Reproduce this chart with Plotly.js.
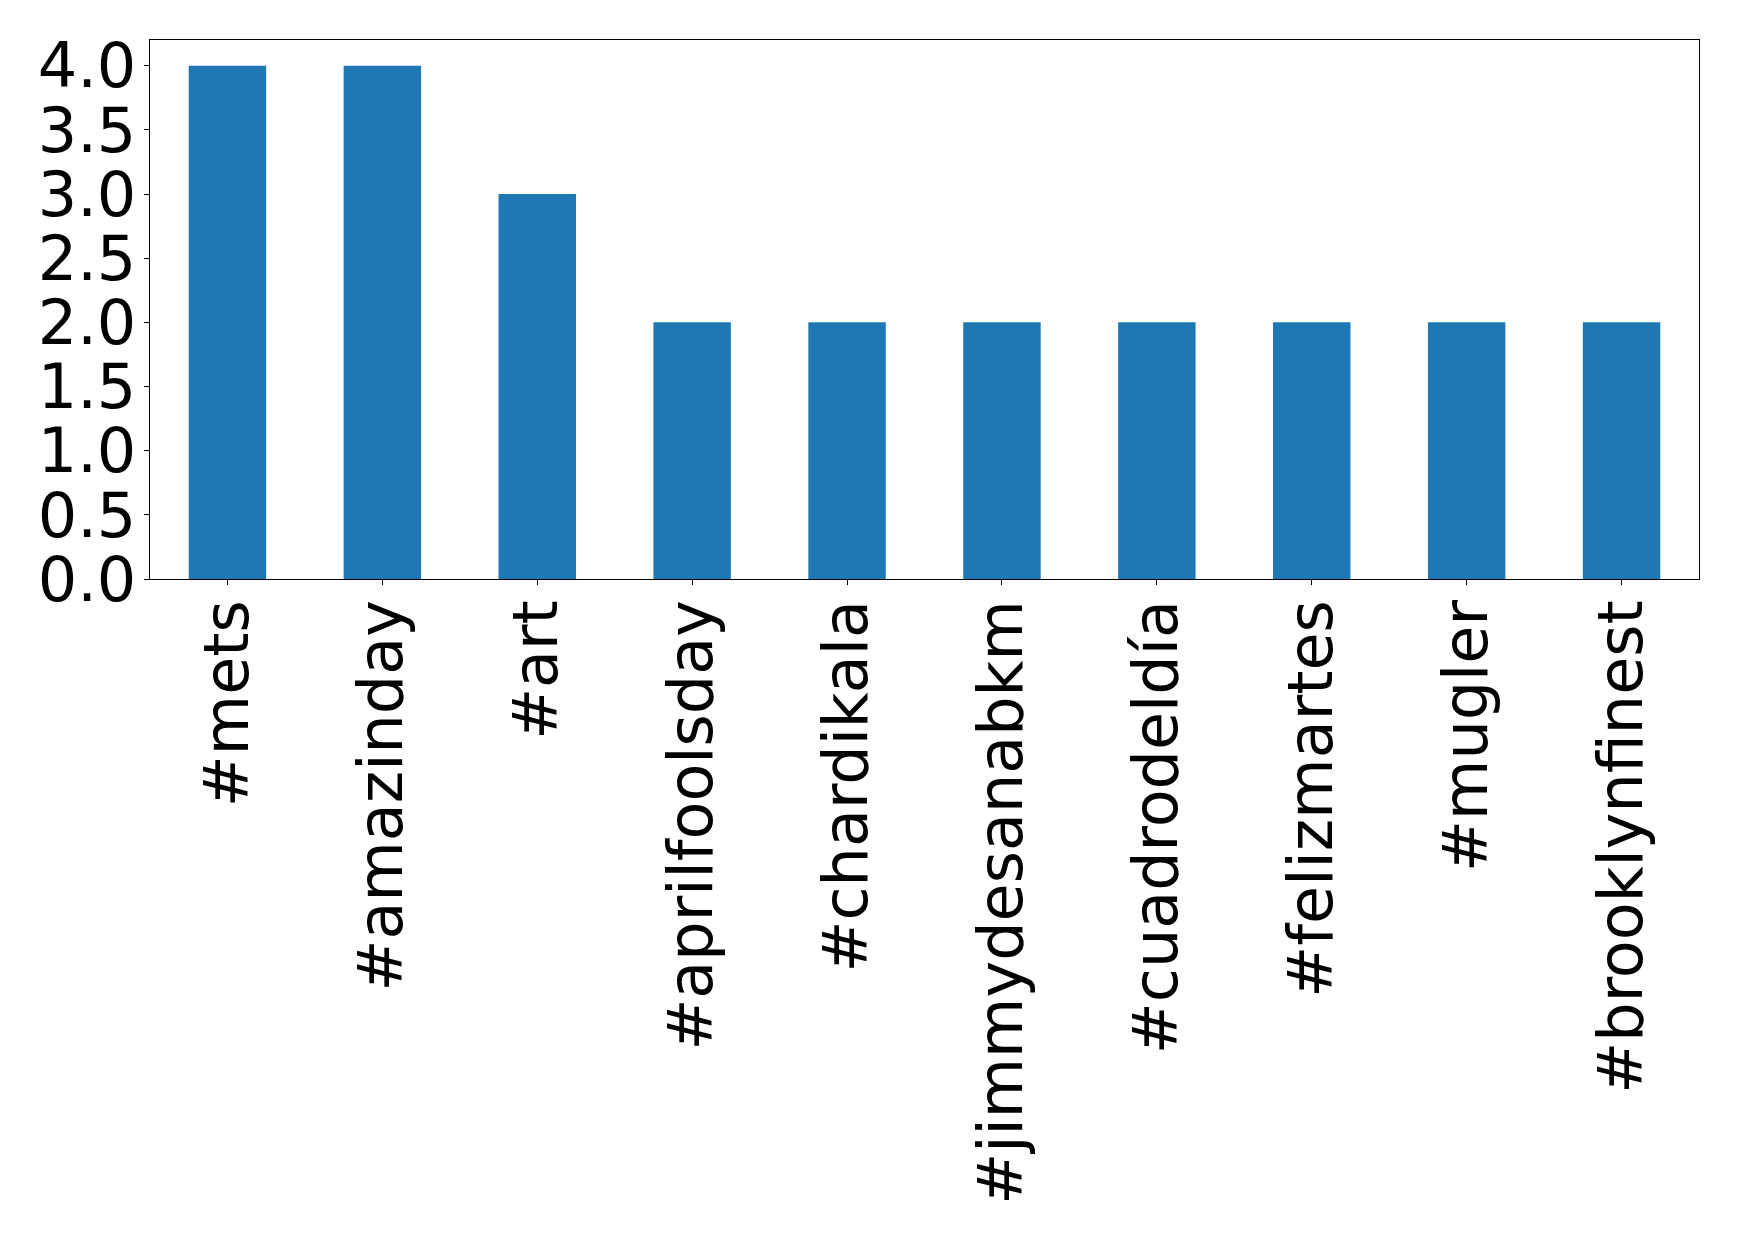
<!DOCTYPE html>
<html>
<head>
<meta charset="utf-8">
<script src="https://cdn.plot.ly/plotly-3.0.1.min.js"></script>
<style>html,body{margin:0;padding:0;background:#fff;}#chart{width:1739px;height:1237px;}</style>
</head>
<body>
<div id="chart"></div>
<script>
const hashtags = ["#mets", "#amazinday", "#art", "#aprilfoolsday", "#chardikala", "#jimmydesanabkm", "#cuadrodeldía", "#felizmartes", "#mugler", "#brooklynfinest"];
const counts = [4, 4, 3, 2, 2, 2, 2, 2, 2, 2];
const yTickVals = [0, 0.5, 1, 1.5, 2, 2.5, 3, 3.5, 4];
const yTickText = ["0.0", "0.5", "1.0", "1.5", "2.0", "2.5", "3.0", "3.5", "4.0"];

const font = {family: "DejaVu Sans, sans-serif", size: 62, color: "#000"};

Plotly.newPlot("chart", [{
  type: "bar",
  x: hashtags.map((_, i) => i),
  y: counts,
  width: 0.5,
  marker: {color: "#1f77b4", line: {width: 0}},
  hoverinfo: "skip"
}], {
  width: 1739,
  height: 1237,
  margin: {l: 150, r: 40, t: 40, b: 658, pad: 0},
  paper_bgcolor: "#fff",
  plot_bgcolor: "#fff",
  showlegend: false,
  font: font,
  xaxis: {
    range: [-0.5, 9.5],
    tickmode: "array",
    tickvals: hashtags.map((_, i) => i),
    ticktext: hashtags,
    tickangle: -90,
    ticks: "outside",
    ticklen: 5,
    tickwidth: 1,
    tickcolor: "#000",
    ticklabelstandoff: -10,
    showline: true,
    linecolor: "#000",
    linewidth: 1.3,
    mirror: true,
    showgrid: false,
    zeroline: false,
    tickfont: font
  },
  yaxis: {
    range: [0, 4.2],
    tickmode: "array",
    tickvals: yTickVals,
    ticktext: yTickText,
    ticks: "outside",
    ticklen: 5,
    tickwidth: 1,
    tickcolor: "#000",
    ticklabelstandoff: -5,
    showline: true,
    linecolor: "#000",
    linewidth: 1.3,
    mirror: true,
    showgrid: false,
    zeroline: false,
    tickfont: font
  }
}, {staticPlot: true});
</script>
</body>
</html>
